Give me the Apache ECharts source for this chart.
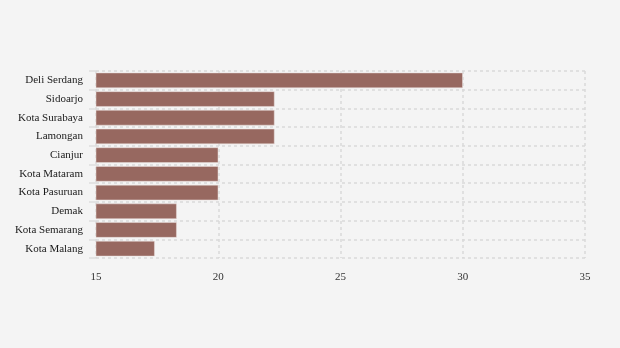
<!DOCTYPE html>
<html><head><meta charset="utf-8">
<script src="https://cdn.jsdelivr.net/npm/echarts@6/dist/echarts.min.js"></script>
<style>html,body{margin:0;padding:0;background:#f4f4f4}#c{width:620px;height:348px}</style>
</head><body><div id="c"></div>
<script>
const categories = ["Deli Serdang","Sidoarjo","Kota Surabaya","Lamongan","Cianjur","Kota Mataram","Kota Pasuruan","Demak","Kota Semarang","Kota Malang"];
const values = [30, 22.3, 22.3, 22.3, 20, 20, 20, 18.3, 18.3, 17.4];
const xTicks = [15, 20, 25, 30, 35];

const chart = echarts.init(document.getElementById('c'), null, {renderer:'canvas'});
chart.setOption({
  backgroundColor: '#f4f4f4',
  animation: false,
  textStyle: {fontFamily: 'Liberation Serif'},
  grid: {left: 96, right: 35, top: 71, bottom: 90},
  xAxis: {
    type: 'value', min: xTicks[0], max: xTicks[xTicks.length-1], interval: 5,
    axisLine: {show: false}, axisTick: {show: false},
    axisLabel: {color: '#333', fontSize: 11, fontFamily: 'Liberation Serif', margin: 14},
    splitLine: {show: true, lineStyle: {color: '#d9d9d9', type: [3,3], width: 1.5}}
  },
  yAxis: {
    type: 'category', data: categories, inverse: true,
    axisLine: {show: false},
    axisTick: {show: true, length: 7, lineStyle: {color: '#dddddd', width: 1.5}},
    axisLabel: {interval: 0, hideOverlap: false, color: '#1a1a1a', fontSize: 11, fontFamily: 'Liberation Serif', margin: 13, padding: [4,0,0,0]},
    splitLine: {show: true, lineStyle: {color: '#d9d9d9', type: [3,3], width: 1.5}}
  },
  series: [{
    type: 'bar', data: values, barCategoryGap: '18%',
    itemStyle: {color: '#976860', borderColor: '#e9dcda', borderWidth: 0.5}
  }]
});
</script></body></html>
